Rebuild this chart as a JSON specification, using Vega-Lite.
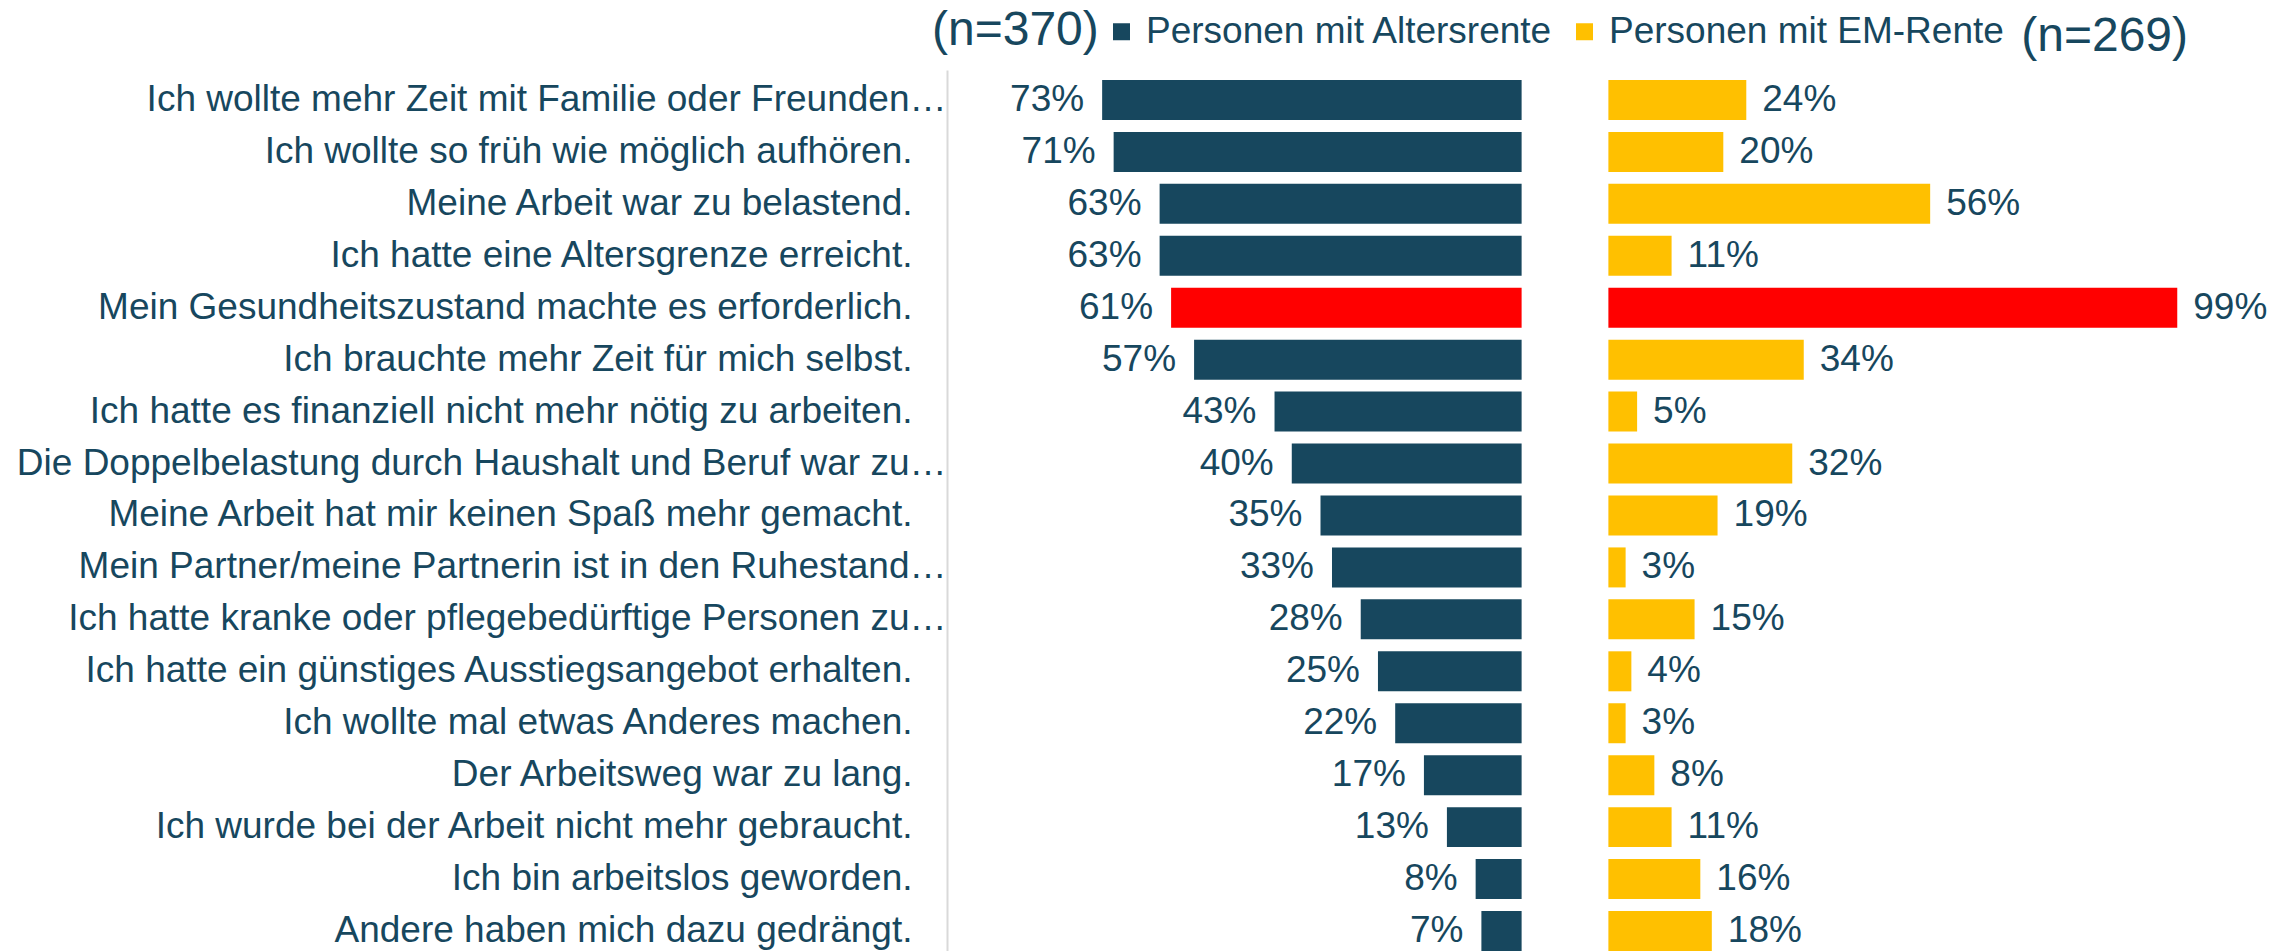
{
  "$schema": "https://vega.github.io/schema/vega-lite/v6.json",
  "autosize": {"type": "none"},
  "padding": {"left": 947, "top": 70, "right": 112, "bottom": 0},
  "background": "white",
  "width": 1236,
  "height": 881,
  "config": {
    "view": {"stroke": null},
    "font": "Liberation Sans"
  },
  "title": {"text": "(n=269)", "font": "Liberation Sans", "fontSize": 48, "fontWeight": "normal", "color": "#17475E", "anchor": "end", "frame": "group", "dx": 5, "baseline": "alphabetic", "offset": 35, "dy": 121},
  "data": {"values": [
    {"Grund": "Ich wollte mehr Zeit mit Familie oder Freunden…", "Gruppe": "Personen mit Altersrente", "Anteil": 0.73},
    {"Grund": "Ich wollte so früh wie möglich aufhören.", "Gruppe": "Personen mit Altersrente", "Anteil": 0.71},
    {"Grund": "Meine Arbeit war zu belastend.", "Gruppe": "Personen mit Altersrente", "Anteil": 0.63},
    {"Grund": "Ich hatte eine Altersgrenze erreicht.", "Gruppe": "Personen mit Altersrente", "Anteil": 0.63},
    {"Grund": "Mein Gesundheitszustand machte es erforderlich.", "Gruppe": "Personen mit Altersrente", "Anteil": 0.61},
    {"Grund": "Ich brauchte mehr Zeit für mich selbst.", "Gruppe": "Personen mit Altersrente", "Anteil": 0.57},
    {"Grund": "Ich hatte es finanziell nicht mehr nötig zu arbeiten.", "Gruppe": "Personen mit Altersrente", "Anteil": 0.43},
    {"Grund": "Die Doppelbelastung durch Haushalt und Beruf war zu…", "Gruppe": "Personen mit Altersrente", "Anteil": 0.40},
    {"Grund": "Meine Arbeit hat mir keinen Spaß mehr gemacht.", "Gruppe": "Personen mit Altersrente", "Anteil": 0.35},
    {"Grund": "Mein Partner/meine Partnerin ist in den Ruhestand…", "Gruppe": "Personen mit Altersrente", "Anteil": 0.33},
    {"Grund": "Ich hatte kranke oder pflegebedürftige Personen zu…", "Gruppe": "Personen mit Altersrente", "Anteil": 0.28},
    {"Grund": "Ich hatte ein günstiges Ausstiegsangebot erhalten.", "Gruppe": "Personen mit Altersrente", "Anteil": 0.25},
    {"Grund": "Ich wollte mal etwas Anderes machen.", "Gruppe": "Personen mit Altersrente", "Anteil": 0.22},
    {"Grund": "Der Arbeitsweg war zu lang.", "Gruppe": "Personen mit Altersrente", "Anteil": 0.17},
    {"Grund": "Ich wurde bei der Arbeit nicht mehr gebraucht.", "Gruppe": "Personen mit Altersrente", "Anteil": 0.13},
    {"Grund": "Ich bin arbeitslos geworden.", "Gruppe": "Personen mit Altersrente", "Anteil": 0.08},
    {"Grund": "Andere haben mich dazu gedrängt.", "Gruppe": "Personen mit Altersrente", "Anteil": 0.07},
    {"Grund": "Ich wollte mehr Zeit mit Familie oder Freunden…", "Gruppe": "Personen mit EM-Rente", "Anteil": 0.24},
    {"Grund": "Ich wollte so früh wie möglich aufhören.", "Gruppe": "Personen mit EM-Rente", "Anteil": 0.20},
    {"Grund": "Meine Arbeit war zu belastend.", "Gruppe": "Personen mit EM-Rente", "Anteil": 0.56},
    {"Grund": "Ich hatte eine Altersgrenze erreicht.", "Gruppe": "Personen mit EM-Rente", "Anteil": 0.11},
    {"Grund": "Mein Gesundheitszustand machte es erforderlich.", "Gruppe": "Personen mit EM-Rente", "Anteil": 0.99},
    {"Grund": "Ich brauchte mehr Zeit für mich selbst.", "Gruppe": "Personen mit EM-Rente", "Anteil": 0.34},
    {"Grund": "Ich hatte es finanziell nicht mehr nötig zu arbeiten.", "Gruppe": "Personen mit EM-Rente", "Anteil": 0.05},
    {"Grund": "Die Doppelbelastung durch Haushalt und Beruf war zu…", "Gruppe": "Personen mit EM-Rente", "Anteil": 0.32},
    {"Grund": "Meine Arbeit hat mir keinen Spaß mehr gemacht.", "Gruppe": "Personen mit EM-Rente", "Anteil": 0.19},
    {"Grund": "Mein Partner/meine Partnerin ist in den Ruhestand…", "Gruppe": "Personen mit EM-Rente", "Anteil": 0.03},
    {"Grund": "Ich hatte kranke oder pflegebedürftige Personen zu…", "Gruppe": "Personen mit EM-Rente", "Anteil": 0.15},
    {"Grund": "Ich hatte ein günstiges Ausstiegsangebot erhalten.", "Gruppe": "Personen mit EM-Rente", "Anteil": 0.04},
    {"Grund": "Ich wollte mal etwas Anderes machen.", "Gruppe": "Personen mit EM-Rente", "Anteil": 0.03},
    {"Grund": "Der Arbeitsweg war zu lang.", "Gruppe": "Personen mit EM-Rente", "Anteil": 0.08},
    {"Grund": "Ich wurde bei der Arbeit nicht mehr gebraucht.", "Gruppe": "Personen mit EM-Rente", "Anteil": 0.11},
    {"Grund": "Ich bin arbeitslos geworden.", "Gruppe": "Personen mit EM-Rente", "Anteil": 0.16},
    {"Grund": "Andere haben mich dazu gedrängt.", "Gruppe": "Personen mit EM-Rente", "Anteil": 0.18}
  ]},
  "encoding": {
    "y": {
      "field": "Grund", "type": "nominal", "sort": null,
      "scale": {"paddingInner": 0.23, "paddingOuter": 0.096, "align": 1},
      "axis": {
        "title": null, "domainColor": "#D9D9D9", "domainWidth": 2, "ticks": false,
        "labelFontSize": 37, "labelFont": "Liberation Sans", "labelColor": "#17475E", "labelLimit": 1200,
        "labelPadding": {"condition": {"test": "indexof(datum.value, '…') >= 0", "value": 1}, "value": 35}
      }
    }
  },
  "layer": [
    {
      "transform": [{"filter": "datum.Gruppe === 'Personen mit Altersrente'"}],
      "encoding": {
        "x": {"field": "Anteil", "type": "quantitative", "scale": {"domain": [-1.151, 1], "reverse": true, "nice": false}, "axis": null}
      },
      "layer": [
        {
          "mark": {"type": "bar"},
          "encoding": {
            "color": {
              "condition": {"test": "datum.Grund === 'Mein Gesundheitszustand machte es erforderlich.'", "value": "#FF0000"},
              "field": "Gruppe", "type": "nominal",
              "scale": {"domain": ["Personen mit Altersrente", "Personen mit EM-Rente"], "range": ["#17475E", "#FFC000"]},
              "legend": {"orient": "none", "legendX": -15, "legendY": -57, "direction": "horizontal", "padding": 0,
                "title": "(n=370)", "titleOrient": "left", "titleFont": "Liberation Sans", "titleFontSize": 48, "titleFontWeight": "normal", "titleColor": "#17475E", "titlePadding": 4, "titleBaseline": "middle", "titleLimit": 400,
                "symbolType": "square", "symbolSize": 289, "symbolStrokeWidth": 0, "labelFontSize": 37, "labelFont": "Liberation Sans",
                "labelColor": "#17475E", "labelLimit": 800, "labelOffset": 6, "columnPadding": 12}
            }
          }
        },
        {
          "mark": {"type": "text", "align": "right", "baseline": "middle", "dx": -18, "fontSize": 37, "font": "Liberation Sans", "color": "#17475E"},
          "encoding": {"text": {"field": "Anteil", "type": "quantitative", "format": ".0%"}}
        }
      ]
    },
    {
      "transform": [{"filter": "datum.Gruppe === 'Personen mit EM-Rente'"}],
      "encoding": {
        "x": {"field": "Anteil", "type": "quantitative", "scale": {"domain": [-1.151, 1], "nice": false}, "axis": null}
      },
      "layer": [
        {
          "mark": {"type": "bar"},
          "encoding": {
            "color": {
              "condition": {"test": "datum.Grund === 'Mein Gesundheitszustand machte es erforderlich.'", "value": "#FF0000"},
              "field": "Gruppe", "type": "nominal",
              "scale": {"domain": ["Personen mit Altersrente", "Personen mit EM-Rente"], "range": ["#17475E", "#FFC000"]},
              "legend": {"orient": "none", "legendX": -15, "legendY": -57, "direction": "horizontal", "padding": 0,
                "title": "(n=370)", "titleOrient": "left", "titleFont": "Liberation Sans", "titleFontSize": 48, "titleFontWeight": "normal", "titleColor": "#17475E", "titlePadding": 4, "titleBaseline": "middle", "titleLimit": 400,
                "symbolType": "square", "symbolSize": 289, "symbolStrokeWidth": 0, "labelFontSize": 37, "labelFont": "Liberation Sans",
                "labelColor": "#17475E", "labelLimit": 800, "labelOffset": 6, "columnPadding": 12}
            }
          }
        },
        {
          "mark": {"type": "text", "align": "left", "baseline": "middle", "dx": 16, "fontSize": 37, "font": "Liberation Sans", "color": "#17475E"},
          "encoding": {"text": {"field": "Anteil", "type": "quantitative", "format": ".0%"}}
        }
      ]
    }
  ],
  "resolve": {"scale": {"x": "independent"}}
}
